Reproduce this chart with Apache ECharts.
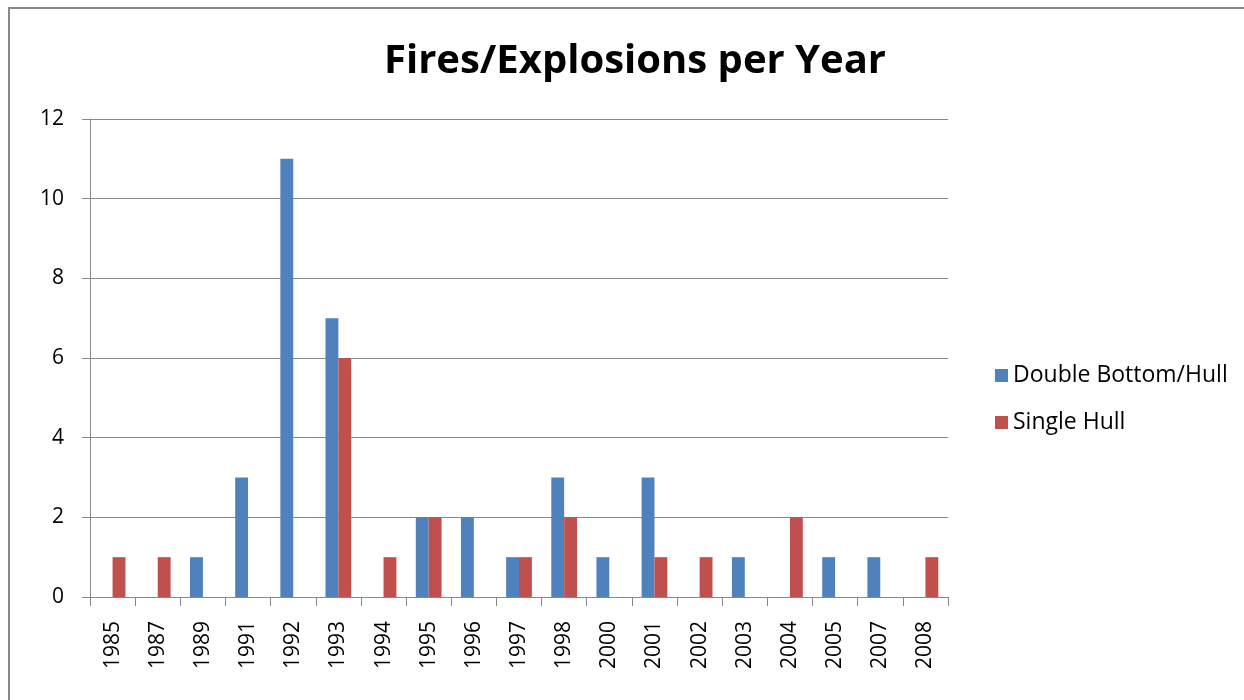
<!DOCTYPE html>
<html>
<head>
<meta charset="utf-8">
<script src="https://cdn.jsdelivr.net/npm/echarts@6/dist/echarts.min.js"></script>
<style>
html, body { margin: 0; padding: 0; background: #fff; }
#main { width: 1244px; height: 700px; }
</style>
</head>
<body>
<div id="main"></div>
<script>
var years = ['1985', '1987', '1989', '1991', '1992', '1993', '1994', '1995', '1996', '1997',
	'1998', '2000', '2001', '2002', '2003', '2004', '2005', '2007', '2008'];
var doubleHull = [0, 0, 1, 3, 11, 7, 0, 2, 2, 1, 3, 1, 3, 0, 1, 0, 1, 1, 0];
var singleHull = [1, 1, 0, 0, 0, 6, 1, 2, 0, 1, 2, 0, 1, 1, 0, 2, 0, 0, 1];
var yTicks = [0, 2, 4, 6, 8, 10, 12];

var font = '"Open Sans", "Liberation Sans", sans-serif';
var myChart = echarts.init(document.getElementById('main'));
myChart.setOption({
	animation: false,
	title: {
		text: 'Fires/Explosions per Year',
		left: 630,
		textAlign: 'center',
		top: 37,
		textStyle: { fontFamily: font, fontSize: 40, fontWeight: 'bold', color: '#000' }
	},
	graphic: [{
		type: 'rect',
		shape: { x: 9, y: 8, width: 1260, height: 720 },
		style: { fill: 'none', stroke: '#888', lineWidth: 2 },
		silent: true
	}],
	legend: {
		orient: 'vertical',
		left: 990,
		top: 359,
		itemWidth: 13,
		itemHeight: 13,
		itemGap: 24,
		icon: 'rect',
		textStyle: { fontFamily: font, fontSize: 23, color: '#000' }
	},
	grid: { left: 90, right: 296, top: 119, bottom: 103 },
	xAxis: {
		type: 'category',
		data: years,
		axisLine: { lineStyle: { color: '#888' } },
		axisTick: { show: true, length: 9, alignWithLabel: false, lineStyle: { color: '#888' } },
		axisLabel: { rotate: 90, margin: 24, fontFamily: font, fontSize: 21, color: '#000' }
	},
	yAxis: {
		type: 'value',
		min: yTicks[0],
		max: yTicks[yTicks.length - 1],
		interval: 2,
		axisLine: { show: true, lineStyle: { color: '#888' } },
		axisTick: { show: true, length: 8, lineStyle: { color: '#888' } },
		axisLabel: { margin: 26, fontFamily: font, fontSize: 21, color: '#000' },
		splitLine: { lineStyle: { color: '#888' } }
	},
	series: [{
		name: 'Double Bottom/Hull',
		type: 'bar',
		data: doubleHull,
		barGap: '0%',
		barCategoryGap: '43%',
		itemStyle: { color: '#4F81BD' }
	}, {
		name: 'Single Hull',
		type: 'bar',
		data: singleHull,
		itemStyle: { color: '#C0504D' }
	}]
});
</script>
</body>
</html>
